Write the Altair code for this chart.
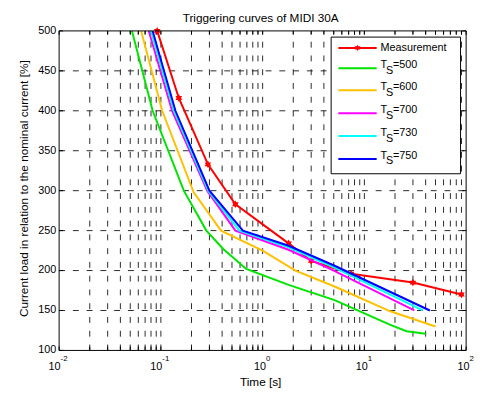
import altair as alt
import pandas as pd

# ---------------- data ----------------
x_decades = [0.01, 0.1, 1, 10, 100]
x_exponents = ["-2", "-1", "0", "1", "2"]
y_ticks = [100, 150, 200, 250, 300, 350, 400, 450, 500]

meas_x = [0.092, 0.15, 0.29, 0.54, 1.8, 3.0, 7.4, 30, 90]
meas_y = [500, 416, 333, 283, 234, 212, 196, 185, 170]

ts500_x = [0.052, 0.083, 0.168, 0.28, 0.41, 0.69, 1.8, 5.1, 18, 26, 40]
ts500_y = [500, 400, 300, 250, 227, 202, 182, 163, 132, 124, 121]

ts600_x = [0.064, 0.103, 0.21, 0.39, 1.0, 2.1, 5.1, 18, 50]
ts600_y = [500, 400, 298, 250, 225, 200, 180, 149, 130]

ts700_x = [0.076, 0.129, 0.285, 0.54, 1.8, 5.0, 31]
ts700_y = [500, 400, 300, 250, 226, 200, 150]

ts730_x = [0.080, 0.134, 0.292, 0.59, 1.8, 5.2, 37.5]
ts730_y = [500, 400, 300, 250, 229, 203, 150]

ts750_x = [0.083, 0.139, 0.30, 0.64, 1.8, 5.1, 44]
ts750_y = [500, 400, 300, 250, 231, 206, 150]

series_names = ["Measurement", "500", "600", "700", "730", "750"]
series_colors = ["#ff0000", "#00e400", "#ffc000", "#ff00ff", "#00ffff", "#0000ff"]
series_x = [meas_x, ts500_x, ts600_x, ts700_x, ts730_x, ts750_x]
series_y = [meas_y, ts500_y, ts600_y, ts700_y, ts730_y, ts750_y]

title_text = "Triggering curves of MIDI 30A"
x_title = "Time [s]"
y_title = "Current load in relation to the nominal current [%]"

# ---------------- layout ----------------
W, H = 414, 325
FONT = "Liberation Sans"
xs = alt.Scale(type="log", domain=[0.01, 100], nice=False)
ys = alt.Scale(domain=[100, 500], nice=False, zero=False)

minor_x = [m * d for d in x_decades[:-1] for m in range(1, 10)] + [100]
grid_x = [v for v in minor_x if 0.011 < v < 99]
grid_y = [v for v in y_ticks if 100 < v < 500]

dash = [6, 8]
layers = []

# grid
layers.append(
    alt.Chart(pd.DataFrame({"gx": grid_x})).mark_rule(color="#111", strokeWidth=0.9, strokeDash=dash).encode(
        x=alt.X("gx:Q", scale=xs, axis=None), y=alt.value(H), y2=alt.value(0))
)
layers.append(
    alt.Chart(pd.DataFrame({"gy": grid_y})).mark_rule(color="#111", strokeWidth=0.9, strokeDash=dash).encode(
        y=alt.Y("gy:Q", scale=ys, axis=None), x=alt.value(0), x2=alt.value(W))
)

# ticks (inward)
tx = pd.DataFrame({"tx": minor_x})
layers.append(alt.Chart(tx).mark_rule(color="black").encode(
    x=alt.X("tx:Q", scale=xs, axis=None), y=alt.value(0), y2=alt.value(4)))
layers.append(alt.Chart(tx).mark_rule(color="black").encode(
    x=alt.X("tx:Q", scale=xs, axis=None), y=alt.value(H), y2=alt.value(H - 4)))
ty = pd.DataFrame({"ty": y_ticks})
layers.append(alt.Chart(ty).mark_rule(color="black").encode(
    y=alt.Y("ty:Q", scale=ys, axis=None), x=alt.value(0), x2=alt.value(4)))
layers.append(alt.Chart(ty).mark_rule(color="black").encode(
    y=alt.Y("ty:Q", scale=ys, axis=None), x=alt.value(W), x2=alt.value(W - 4)))

# curves
star = "M0,-1L0.2887,-0.5L0.866,-0.5L0.5774,0L0.866,0.5L0.2887,0.5L0,1L-0.2887,0.5L-0.866,0.5L-0.5774,0L-0.866,-0.5L-0.2887,-0.5Z"
for name, col, sx, sy in zip(series_names, series_colors, series_x, series_y):
    df = pd.DataFrame({"x": sx, "y": sy, "o": list(range(len(sx)))})
    layers.append(alt.Chart(df).mark_line(color=col, strokeWidth=2, clip=False).encode(
        x=alt.X("x:Q", scale=xs, axis=None), y=alt.Y("y:Q", scale=ys, axis=None), order="o:Q"))
    if name == "Measurement":
        layers.append(alt.Chart(df).mark_point(shape=star, filled=True, color=col, size=60, opacity=1).encode(
            x=alt.X("x:Q", scale=xs, axis=None), y=alt.Y("y:Q", scale=ys, axis=None)))

# legend
LX0, LX1, LY0, LY1 = 276.7, 408.3, 6.3, 145.3
row_y = [17.3, 38.0, 60.3, 83.7, 107.0, 130.3]
layers.append(alt.Chart(pd.DataFrame({"a": [0]})).mark_rect(fill="white", stroke="black", strokeWidth=1).encode(
    x=alt.value(LX0), x2=alt.value(LX1), y=alt.value(LY0), y2=alt.value(LY1)))
leg = pd.DataFrame({"name": series_names, "c": series_colors, "ly": row_y})
layers.append(alt.Chart(leg).mark_rule(strokeWidth=2).encode(
    x=alt.value(284), x2=alt.value(323), y=alt.Y("ly:Q", scale=None), color=alt.Color("c:N", scale=None)))
layers.append(alt.Chart(leg.iloc[:1]).mark_point(shape=star, filled=True, size=40, opacity=1).encode(
    x=alt.value(303.5), y=alt.Y("ly:Q", scale=None), color=alt.Color("c:N", scale=None)))
layers.append(alt.Chart(leg.iloc[:1]).mark_text(font=FONT, fontSize=11, align="left", baseline="middle").encode(
    x=alt.value(327), y=alt.Y("ly:Q", scale=None), text="name:N"))
ts = leg.iloc[1:].copy()
ts["T"] = "T"
ts["S"] = "S"
ts["rest"] = ["=" + n for n in ts["name"]]
layers.append(alt.Chart(ts).mark_text(font=FONT, fontSize=11, align="left", baseline="alphabetic", dy=0).encode(
    x=alt.value(327), y=alt.Y("ly:Q", scale=None), text="T:N"))
layers.append(alt.Chart(ts).mark_text(font=FONT, fontSize=11, align="left", baseline="alphabetic", dy=5.5).encode(
    x=alt.value(332.6), y=alt.Y("ly:Q", scale=None), text="S:N"))
layers.append(alt.Chart(ts).mark_text(font=FONT, fontSize=11, align="left", baseline="alphabetic", dy=0).encode(
    x=alt.value(339.5), y=alt.Y("ly:Q", scale=None), text="rest:N"))

# frame
layers.append(alt.Chart(pd.DataFrame({"a": [0]})).mark_rect(fillOpacity=0, stroke="black", strokeWidth=1).encode(
    x=alt.value(0), x2=alt.value(W), y=alt.value(0), y2=alt.value(H)))

# tick labels
layers.append(alt.Chart(pd.DataFrame({"v": y_ticks})).mark_text(font=FONT, fontSize=11, align="right", baseline="middle").encode(
    y=alt.Y("v:Q", scale=ys, axis=None), x=alt.value(-3), text="v:Q"))
xl = pd.DataFrame({"v": x_decades, "e": x_exponents, "b": ["10"] * len(x_decades)})
xl_neg = xl[xl["e"].str.startswith("-")]
xl_pos = xl[~xl["e"].str.startswith("-")]
for d, off in [(xl_neg, 1.5), (xl_pos, 3.5)]:
    layers.append(alt.Chart(d).mark_text(font=FONT, fontSize=11, align="right", baseline="middle", dx=off).encode(
        x=alt.X("v:Q", scale=xs, axis=None), y=alt.value(341.5), text="b:N"))
    layers.append(alt.Chart(d).mark_text(font=FONT, fontSize=8, align="left", baseline="middle", dx=off).encode(
        x=alt.X("v:Q", scale=xs, axis=None), y=alt.value(333.5), text="e:N"))

# titles
layers.append(alt.Chart(pd.DataFrame({"t": [title_text]})).mark_text(font=FONT, fontSize=12, align="center", baseline="middle").encode(
    x=alt.value(W / 2 - 2), y=alt.value(-13.5), text="t:N"))
layers.append(alt.Chart(pd.DataFrame({"t": [x_title]})).mark_text(font=FONT, fontSize=12, align="center", baseline="middle").encode(
    x=alt.value(W / 2 - 2), y=alt.value(357), text="t:N"))
layers.append(alt.Chart(pd.DataFrame({"t": [y_title]})).mark_text(font=FONT, fontSize=12, align="center", baseline="middle", angle=270).encode(
    x=alt.value(-36), y=alt.value(H / 2 - 2), text="t:N"))

chart = alt.layer(*layers).properties(
    width=W, height=H, autosize="none",
    padding={"left": 52, "top": 20, "right": 8, "bottom": 40},
).configure_view(stroke=None)

chart.save("out.html", embed_options={"renderer": "svg", "actions": False})
